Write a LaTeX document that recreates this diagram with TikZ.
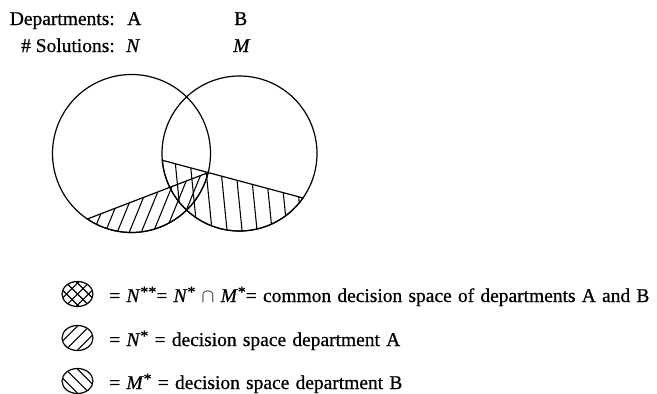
\documentclass[tikz,border=0pt]{standalone}
\usepackage{fontspec}
\setmainfont{Liberation Serif}[FakeBold=0.7]
\usetikzlibrary{positioning}
\newcommand{\upstar}[1]{\raisebox{0.25em}{\fontsize{12}{12}\selectfont #1}}
\newcommand{\legfont}{\fontsize{14.6}{17}\selectfont\spaceskip=0.32em\relax}

\begin{document}
\begin{tikzpicture}[x=0.75pt, y=-0.75pt,
  every node/.style={font=\fontsize{14.6}{17}\selectfont, inner sep=0pt},
  legend/.style={anchor=base west, font=\legfont},
  rim/.style={line width=0.9pt},
  hatch/.style={line width=0.8pt}]
  \useasboundingbox (0,0) rectangle (657,393);

  % Header
  \node[anchor=base east] (dept) at (115,25) {Departments:};
  \node[anchor=base west] (deptA) at (127,25) {A};
  \node[anchor=base west] (deptB) at (234,25) {B};
  \node[anchor=base east] (sol) at (115,52) {\# Solutions:};
  \node[anchor=base west] (solN) at (126,52) {\textit{N}};
  \node[anchor=base west] (solM) at (233,52) {\textit{M}};

  % Circles of the two departments
  \coordinate (cA) at (131.5,153.5);
  \coordinate (cB) at (239.5,153.5);
  \draw[rim] (cA) circle[radius=79];
  \draw[rim] (cB) circle[radius=77.5];

  % Decision space of A
  \begin{scope}
    \clip (cA) ++(14:79) arc[start angle=14, end angle=124, radius=79] -- cycle;
    \foreach \x in {38,50,...,230}
      \draw[hatch] (\x,250) -- ++(45,-110);
  \end{scope}
  \draw[rim] (cA) ++(14:79) arc[start angle=14, end angle=124, radius=79] -- cycle;

  % Decision space of B
  \begin{scope}
    \clip (cB) ++(35:77.5) arc[start angle=35, end angle=175, radius=77.5] -- cycle;
    \foreach \x in {143,158,...,308}
      \draw[hatch] (\x,140) -- ++(10,100);
  \end{scope}
  \draw[rim] (cB) ++(35:77.5) arc[start angle=35, end angle=175, radius=77.5] -- cycle;

  % Legend
  \coordinate (sym1) at (77.5,294);
  \coordinate (sym2) at (77.5,338);
  \coordinate (sym3) at (77.5,381);
  \begin{scope}
    \clip (sym1) ellipse[x radius=15.5, y radius=12.5];
    \foreach \d in {-11,0,11} {
      \draw[hatch] (sym1) ++(\d-20,20) -- ++(40,-40);
      \draw[hatch] (sym1) ++(\d-20,-20) -- ++(40,40);
    }
  \end{scope}
  \begin{scope}
    \clip (sym2) ellipse[x radius=15.5, y radius=12.5];
    \foreach \d in {-12,0,12}
      \draw[hatch] (sym2) ++(\d-20,20) -- ++(40,-40);
  \end{scope}
  \begin{scope}
    \clip (sym3) ellipse[x radius=15.5, y radius=12.5];
    \foreach \d in {-12,0,12}
      \draw[hatch] (sym3) ++(\d-20,-20) -- ++(40,40);
  \end{scope}
  \foreach \s in {sym1,sym2,sym3}
    \draw[rim] (\s) ellipse[x radius=15.5, y radius=12.5];

  \node[legend] (leg1) at (109,302) {= \textit{N}\upstar{**}= \textit{N}\upstar{*} $\cap$ \textit{M}\upstar{*}= common decision space of departments A and B};
  \node[legend] (leg2) at (109,346) {= \textit{N}\upstar{*} = decision space department A};
  \node[legend] (leg3) at (109,389) {= \textit{M}\upstar{*} = decision space department B};
\end{tikzpicture}
\end{document}
